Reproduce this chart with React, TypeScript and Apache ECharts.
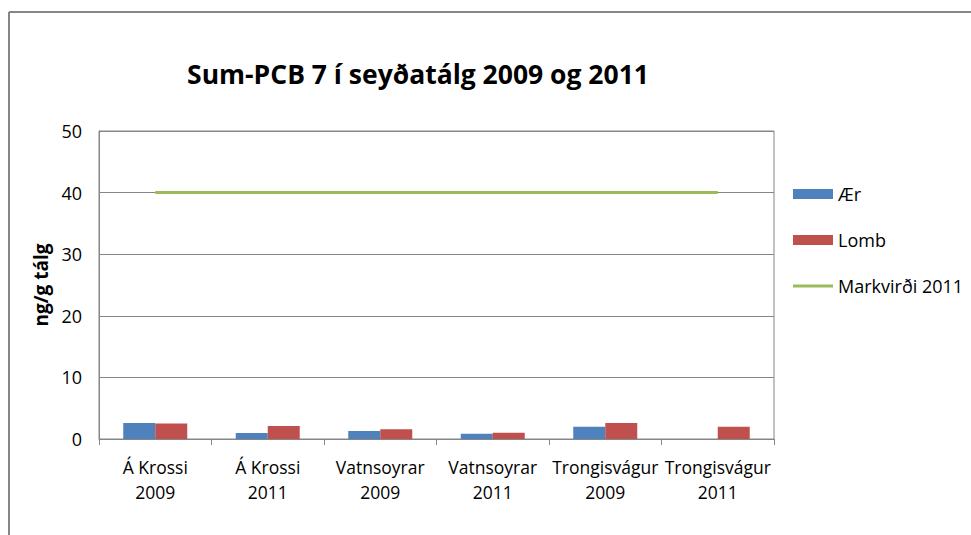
import React, { useEffect, useRef } from "react";
import * as echarts from "echarts";

const categories = [
  "Á Krossi\n2009",
  "Á Krossi\n2011",
  "Vatnsoyrar\n2009",
  "Vatnsoyrar\n2011",
  "Trongisvágur\n2009",
  "Trongisvágur\n2011",
];
const aerValues: (number | null)[] = [2.6, 0.97, 1.3, 0.87, 2.0, null];
const lombValues = [2.5, 2.1, 1.57, 1.03, 2.6, 2.0];
const markvirdiValues = [40, 40, 40, 40, 40, 40];
const yTicks = { min: 0, max: 50, interval: 10 };

const FONT = "Open Sans";
const lineIcon = "path://M0,0 M0,3.5 L40,3.5 L40,6.5 L0,6.5 Z M40,10";

export default function App() {
  const ref = useRef<HTMLDivElement>(null);
  useEffect(() => {
    if (!ref.current) return;
    const chart = echarts.init(ref.current, undefined, { renderer: "svg" });
    chart.setOption({
      animation: false,
      backgroundColor: "#ffffff",
      textStyle: { fontFamily: FONT },
      title: {
        text: "Sum-PCB 7 í seyðatálg 2009 og 2011",
        left: 413,
        top: 55,
        textAlign: "center",
        textStyle: { fontFamily: FONT, fontSize: 26.5, fontWeight: "bold", color: "#000" },
      },
      graphic: [
        { type: "line", shape: { x1: 9, y1: 12, x2: 971, y2: 12 }, style: { stroke: "#868686", lineWidth: 2 } },
        { type: "line", shape: { x1: 9, y1: 12, x2: 9, y2: 535 }, style: { stroke: "#868686", lineWidth: 2 } },
      ],
      legend: {
        orient: "vertical",
        left: 788,
        top: 180,
        itemGap: 28,
        itemWidth: 40,
        itemHeight: 10,
        textStyle: { fontFamily: FONT, fontSize: 18, color: "#000" },
        data: [
          { name: "Ær", icon: "rect" },
          { name: "Lomb", icon: "rect" },
          { name: "Markvirði 2011", icon: lineIcon },
        ],
      },
      grid: {
        left: 99,
        right: 197,
        top: 131,
        bottom: 96,
        show: true,
        borderColor: "#868686",
        borderWidth: 1,
        backgroundColor: "transparent",
      },
      xAxis: {
        type: "category",
        data: categories,
        boundaryGap: true,
        axisLine: { show: true, lineStyle: { color: "#868686" } },
        axisTick: { show: true, length: 6, alignWithLabel: false, lineStyle: { color: "#868686" } },
        axisLabel: {
          interval: 0,
          fontFamily: FONT,
          fontSize: 17.5,
          color: "#000",
          lineHeight: 25,
          margin: 15,
        },
      },
      yAxis: {
        type: "value",
        min: yTicks.min,
        max: yTicks.max,
        interval: yTicks.interval,
        name: "ng/g tálg",
        nameLocation: "middle",
        nameRotate: 90,
        nameGap: 48,
        nameTextStyle: { fontFamily: FONT, fontSize: 19, fontWeight: "bold", color: "#000" },
        axisLine: { show: true, lineStyle: { color: "#868686" } },
        axisTick: { show: false },
        splitLine: { show: true, lineStyle: { color: "#868686", width: 1 } },
        axisLabel: { fontFamily: FONT, fontSize: 18, color: "#000", margin: 17 },
      },
      series: [
        {
          name: "Ær",
          type: "bar",
          data: aerValues,
          barWidth: 32,
          barGap: "0%",
          itemStyle: { color: "#4F81BD" },
        },
        {
          name: "Lomb",
          type: "bar",
          data: lombValues,
          barWidth: 32,
          barGap: "0%",
          itemStyle: { color: "#C0504D" },
        },
        {
          name: "Markvirði 2011",
          type: "line",
          data: markvirdiValues,
          symbol: "none",
          lineStyle: { color: "#9BBB59", width: 3 },
          itemStyle: { color: "#9BBB59" },
        },
      ],
    });
    return () => chart.dispose();
  }, []);
  return (
    <div
      ref={ref}
      style={{ position: "fixed", left: 0, top: 0, width: 971, height: 535 }}
    />
  );
}
